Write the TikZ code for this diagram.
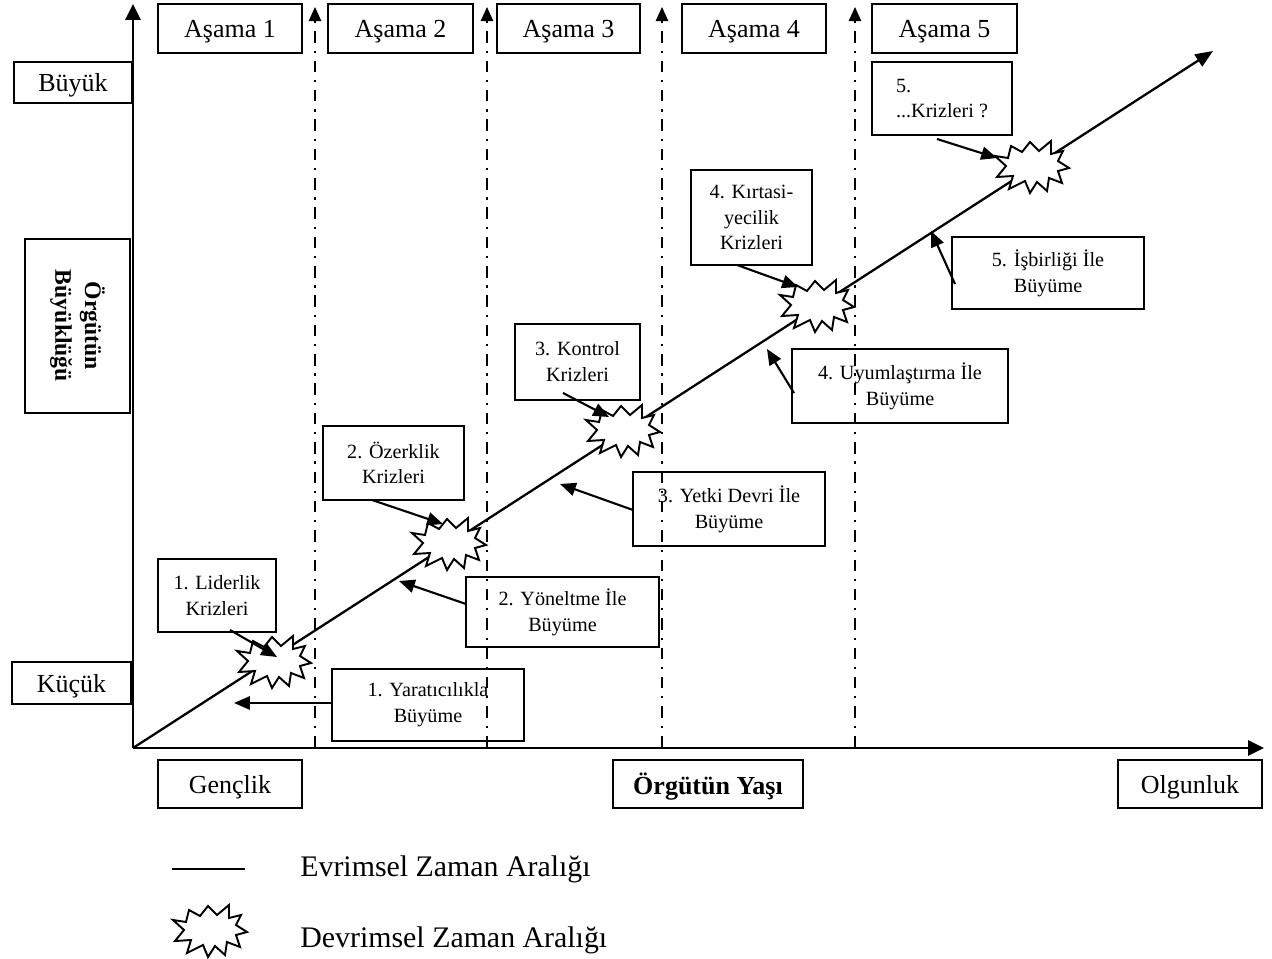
\documentclass[tikz,border=0pt]{standalone}
\usepackage{fontspec}
\setmainfont{Liberation Serif}
\usetikzlibrary{arrows.meta,calc}

\tikzset{
  sz/.style 2 args={minimum width=#1*0.02cm, minimum height=#2*0.02cm},
  box/.style={draw, line width=1pt, inner sep=0pt, align=center,
    font=\fontsize{11.5}{14.7}\selectfont},
  bigbox/.style={box, font=\fontsize{14.8}{18}\selectfont, text depth=0pt},
  axis/.style={line width=1.6pt, -{Triangle[length=9pt,width=8.5pt]}},
  stageline/.style={line width=1pt, dash pattern=on 6.5pt off 4.5pt on 1.2pt off 4.5pt,
    -{Triangle[length=8pt,width=7pt]}},
  ptr/.style={line width=1.2pt, -{Triangle[length=9pt,width=7.5pt]}},
  evo/.style={line width=1.3pt},
  burst/.style={draw, fill=white, line width=1.1pt, miter limit=20},
  legendtext/.style={anchor=west, inner sep=0pt, font=\fontsize{17}{20}\selectfont},
}

% irregular star for a revolutionary period, centred at #1
\newcommand\crisisburst[1]{%
  \draw[burst, shift={(#1)}] (37,2) -- (26,-5) -- (31,-15) -- (19,-12) -- (19,-25)
    -- (7,-15) -- (-2,-24) -- (-10,-14) -- (-21,-20) -- (-24,-8) -- (-37,-10)
    -- (-26,0) -- (-35,11) -- (-19,10) -- (-23,23) -- (-7,15) -- (-2,27)
    -- (5,16) -- (15,25) -- (17,12) -- (30,17) -- (26,5) -- cycle;}

\begin{document}
\begin{tikzpicture}[x=0.02cm, y=-0.02cm]
\useasboundingbox (0,0) rectangle (1272,959);

% axes
\coordinate (O) at (133,748);
\coordinate (Ytop) at (133,4);
\coordinate (Xend) at (1264,748);
\coordinate (Dend) at (1213,51);
\draw[axis] (O) -- (Ytop);
\draw[axis] (O) -- (Xend);

% evolutionary growth line
\draw[evo, -{Triangle[length=10pt,width=8pt]}] (O) -- (Dend);

% stage headings
\node[bigbox, sz={144}{49}] (a1) at (230,28.5) {Aşama 1};
\node[bigbox, sz={145}{49}] (a2) at (400.5,28.5) {Aşama 2};
\node[bigbox, sz={143}{49}] (a3) at (568.5,28.5) {Aşama 3};
\node[bigbox, sz={144}{49}] (a4) at (754,28.5) {Aşama 4};
\node[bigbox, sz={145}{49}] (a5) at (944.5,28.5) {Aşama 5};

% axis labels
\node[bigbox, sz={118}{41}] (big) at (73,82.5) {Büyük};
\node[box, sz={174}{105}, rotate=-90, font=\fontsize{13.5}{17}\selectfont\bfseries]
  (size) at (77.5,326) {Örgütün\\Büyüklüğü};
\node[bigbox, sz={119}{42}] (small) at (71.5,683) {Küçük};
\node[bigbox, sz={144}{48}] (young) at (230,784) {Gençlik};
\node[bigbox, sz={190}{48}, font=\fontsize{14.8}{18}\selectfont\bfseries] (age) at (708,784) {Örgütün Yaşı};
\node[bigbox, sz={144}{48}] (mature) at (1190,784) {Olgunluk};

% crisis boxes
\node[box, sz={118}{73}] (c1) at (217,595.5) {1. Liderlik\\Krizleri};
\node[box, sz={141}{74}] (c2) at (393.5,463) {2. Özerklik\\Krizleri};
\node[box, sz={125}{76}] (c3) at (577.5,362) {3. Kontrol\\Krizleri};
\node[box, sz={121}{95}] (c4) at (751.5,217.5) {4. Kırtasi-\\yecilik\\Krizleri};
\node[box, sz={140}{73}, align=left] (c5) at (942,98.5) {5.\\...Krizleri ?};

% growth boxes
\node[box, sz={192}{72}] (g1) at (428,705) {1. Yaratıcılıkla\\Büyüme};
\node[box, sz={193}{70}] (g2) at (562.5,612) {2. Yöneltme İle\\Büyüme};
\node[box, sz={192}{74}] (g3) at (729,509) {3. Yetki Devri İle\\Büyüme};
\node[box, sz={216}{74}] (g4) at (900,386) {4. Uyumlaştırma İle\\Büyüme};
\node[box, sz={192}{72}] (g5) at (1048,273) {5. İşbirliği İle\\Büyüme};

% revolutionary periods on the line
\crisisburst{274,661}
\crisisburst{449,543}
\crisisburst{623,430}
\crisisburst{817,305}
\crisisburst{1032,166}

% pointers from crisis boxes to the bursts
\coordinate (c1s) at (230,630);   \coordinate (b1) at (277,657);
\coordinate (c2s) at (372,500);   \coordinate (b2) at (443,524);
\coordinate (c3s) at (563,393);   \coordinate (b3) at (609,417);
\coordinate (c4s) at (737,265);   \coordinate (b4) at (798,287);
\coordinate (c5s) at (937,139);   \coordinate (b5) at (997,158);
\draw[ptr] (c1s) -- (b1);
\draw[ptr] (c2s) -- (b2);
\draw[ptr] (c3s) -- (b3);
\draw[ptr] (c4s) -- (b4);
\draw[ptr] (c5s) -- (b5);

% pointers from growth boxes to the line
\coordinate (g1s) at (332,703);   \coordinate (e1) at (234,703);
\coordinate (g2s) at (466,604);   \coordinate (e2) at (399,581);
\coordinate (g3s) at (633,510);   \coordinate (e3) at (560,484);
\coordinate (g4s) at (794,393);   \coordinate (e4) at (767,349);
\coordinate (g5s) at (955,284);   \coordinate (e5) at (931,231);
\draw[ptr] (g1s) -- (e1);
\draw[ptr] (g2s) -- (e2);
\draw[ptr] (g3s) -- (e3);
\draw[ptr] (g4s) -- (e4);
\draw[ptr] (g5s) -- (e5);

% stage boundaries
\foreach \sx [count=\i] in {315,487,662,855}{
  \coordinate (sb\i) at (\sx,747);
  \coordinate (st\i) at (\sx,7);
  \draw[stageline] (sb\i) -- (st\i);
}

% legend
\coordinate (l1) at (172,869);
\coordinate (l2) at (245,869);
\draw[evo] (l1) -- (l2);
\node[legendtext] (evotext) at (300,869) {Evrimsel Zaman Aralığı};
\crisisburst{210,930}
\node[legendtext] (revtext) at (300,940) {Devrimsel Zaman Aralığı};
\end{tikzpicture}
\end{document}
